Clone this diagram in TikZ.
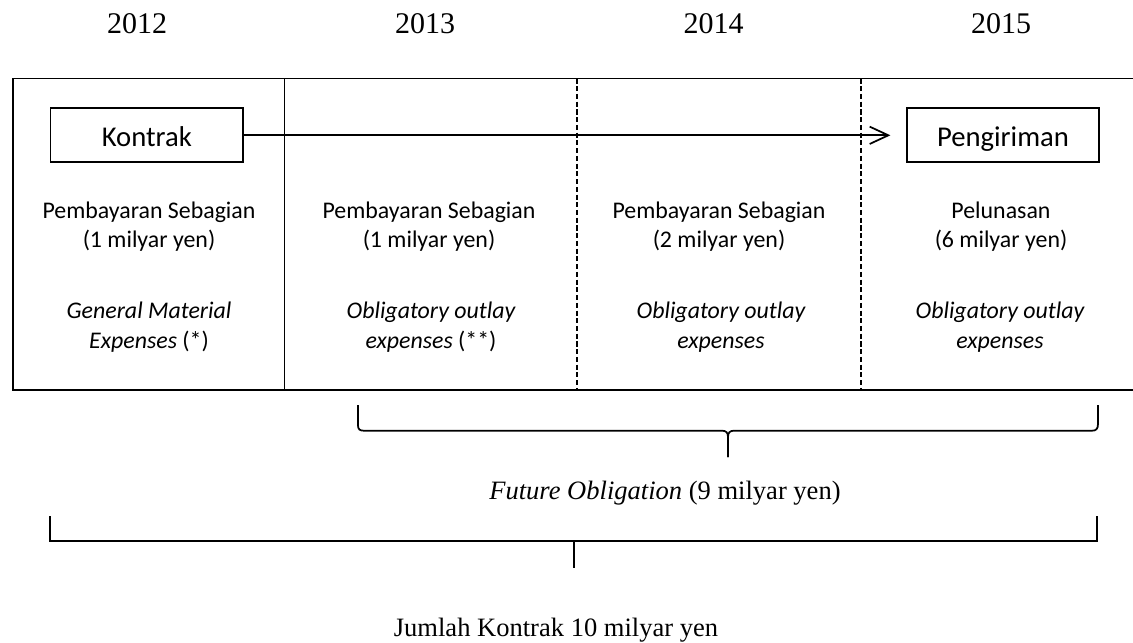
\documentclass[tikz,border=0pt]{standalone}
\usepackage{fontspec}
\setmainfont{Liberation Serif}
\newfontfamily\calibrifont{Carlito}
\usetikzlibrary{arrows.meta}
\begin{document}
\begin{tikzpicture}[x=0.75pt,y=-0.75pt,
  yearlbl/.style={font=\fontsize{22.5}{27}\selectfont, anchor=base, inner sep=0pt},
  celltxt/.style={font=\calibrifont\fontsize{17.9}{21}\selectfont, anchor=base, inner sep=0pt},
  cellit/.style={font=\calibrifont\fontsize{17.9}{21}\selectfont\itshape, anchor=base, inner sep=0pt},
  eventbox/.style={draw, line width=1.4pt, minimum width=144.5pt, minimum height=40.5pt, inner sep=0pt, text height=22.1pt, text depth=5pt, font=\calibrifont\fontsize{21.5}{25}\selectfont},
  bottomlbl/.style={font=\fontsize{19.9}{24}\selectfont, anchor=base, inner sep=0pt},
  mainline/.style={line width=1.3pt},
  dashline/.style={line width=1pt, dash pattern=on 3.8pt off 2pt},
  bracel/.style={line width=1.3pt, line join=round}
]
\useasboundingbox (0,0) rectangle (1133,643);
\clip (0,0) rectangle (1133,643);

% years
\node[yearlbl] (y2012) at (137,33) {2012};
\node[yearlbl] (y2013) at (425,33) {2013};
\node[yearlbl] (y2014) at (713.5,33) {2014};
\node[yearlbl] (y2015) at (1001,33) {2015};

% frame
\draw[mainline] (1145,78.5) -- (12.7,78.5) -- (12.7,390) -- (1145,390);
\draw[mainline] (284.6,78.5) -- (284.6,390);
\draw[dashline] (577,78.5) -- (577,390);
\draw[dashline] (861,78.5) -- (861,390);

% event boxes
\node[eventbox] (kontrak) at (146.8,135.3) {Kontrak};
\node[eventbox] (kirim) at (1003,135.3) {Pengiriman};
\draw[line width=1.3pt, -{Straight Barb[length=14pt,width=13pt,line width=1.3pt]}, shorten >=11.5pt] (kontrak.east) -- (kirim.west);

% column texts
\node[celltxt] (c1a) at (149,218) {Pembayaran Sebagian};
\node[celltxt] (c1b) at (149,247) {(1 milyar yen)};
\node[cellit] (c1c) at (149,318) {General Material};
\node[cellit] (c1d) at (149,348) {Expenses \upshape(*)};

\node[celltxt] (c2a) at (429,218) {Pembayaran Sebagian};
\node[celltxt] (c2b) at (429,247) {(1 milyar yen)};
\node[cellit] (c2c) at (431,318) {Obligatory outlay};
\node[cellit] (c2d) at (431,348) {expenses \upshape(**)};

\node[celltxt] (c3a) at (719,218) {Pembayaran Sebagian};
\node[celltxt] (c3b) at (719,247) {(2 milyar yen)};
\node[cellit] (c3c) at (721,318) {Obligatory outlay};
\node[cellit] (c3d) at (721,348) {expenses};

\node[celltxt] (c4a) at (1001,218) {Pelunasan};
\node[celltxt] (c4b) at (1001,247) {(6 milyar yen)};
\node[cellit] (c4c) at (1000,318) {Obligatory outlay};
\node[cellit] (c4d) at (1000,348) {expenses};

% brace: future obligation
\coordinate (fL) at (358,405);
\coordinate (fR) at (1098,405);
\coordinate (fT) at (728,457);
\draw[bracel] (fL) -- (358,425.5) .. controls (358,429.5) and (360,430.7) .. (364,430.7)
  -- (722,430.7) .. controls (726,430.7) and (728,432.5) .. (728,437) -- (fT);
\draw[bracel] (fT) -- (728,437) .. controls (728,432.5) and (730,430.7) .. (734,430.7)
  -- (1092,430.7) .. controls (1096,430.7) and (1098,429) .. (1098,424) -- (fR);
\node[bottomlbl] (fut) at (665,499) {\textit{Future Obligation} (9 milyar yen)};

% brace: total contract
\coordinate (tL) at (49.8,516);
\coordinate (tR) at (1097,516);
\coordinate (tT) at (574,568);
\draw[bracel, line join=miter] (tL) -- (49.8,540.7) -- (1097,540.7) -- (tR);
\draw[bracel] (574,540.7) -- (tT);
\node[bottomlbl] (tot) at (556,636.7) {Jumlah Kontrak 10 milyar yen};
\end{tikzpicture}
\end{document}
